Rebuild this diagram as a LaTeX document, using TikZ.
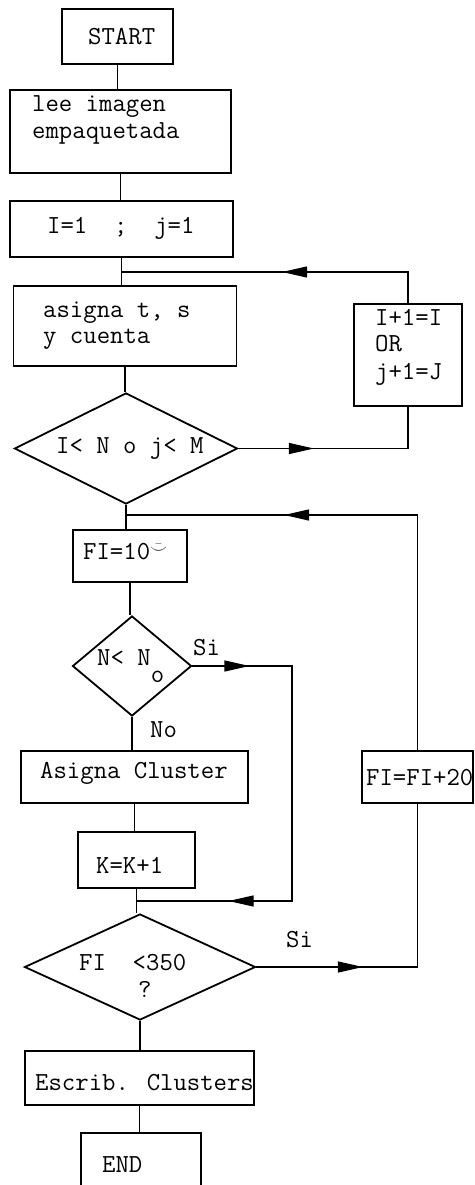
\documentclass[tikz,border=0pt]{standalone}
\usetikzlibrary{shapes.geometric,arrows.meta,decorations.markings}
\begin{document}
\begin{tikzpicture}[x=1pt,y=-1pt,
  box/.style={draw,line width=1.8pt,inner sep=0pt},
  dia/.style={draw,diamond,line width=1.8pt,inner sep=0pt},
  txt/.style={font=\fontsize{26}{28}\selectfont\ttfamily,inner sep=0pt,anchor=base west},
  conn/.style={draw,line width=1.2pt},
  tri/.tip={Triangle[length=25pt,width=11pt]},
  tipat/.style={postaction={decorate},decoration={markings,mark=at position #1 with {\arrow{tri}}}}]
\useasboundingbox (0,0) rectangle (474,1185);
\clip (0,0) rectangle (474,1185);

% main column
\node[box,minimum width=111pt,minimum height=55pt] (start) at (117.5,36.5) {};
\node[txt] (startT) at (88,45) {START};

\node[box,minimum width=221pt,minimum height=83pt] (lee) at (120.5,131.5) {};
\node[txt] (leeA) at (32,112) {lee imagen};
\node[txt] (leeB) at (32,139) {empaquetada};

\node[box,minimum width=223pt,minimum height=56pt] (ini) at (121.5,229) {};
\node[txt] (iniT) at (47,233) {I=1\ \ ;\ \ j=1};

\coordinate (m1) at (121.5,272);

\node[box,minimum width=223pt,minimum height=80pt] (asig) at (125,326) {};
\node[txt] (asigA) at (43,317) {asigna t, s};
\node[txt] (asigB) at (43,343) {y cuenta};

\node[dia,minimum width=223pt,minimum height=111pt] (d1) at (126,448.5) {};
\node[txt] (d1T) at (56,453) {I< N o j< M};

% increment box
\node[box,minimum width=108pt,minimum height=102pt] (inc) at (408,355) {};
\node[txt] (incA) at (375,325) {I+1=I};
\node[txt] (incB) at (375,351) {OR};
\node[txt] (incC) at (375,379) {j+1=J};

\coordinate (m2) at (126,515);

\node[box,minimum width=114pt,minimum height=52pt] (fi) at (130,556) {};
\node[txt] (fiT) at (83,559) {FI=10\raisebox{6pt}{\fontsize{16}{16}\selectfont$\bar{\smile}$}};

\node[dia,minimum width=119pt,minimum height=100pt] (d2) at (132,666) {};
\node[txt] (d2T) at (97,665) {N< N\raisebox{-17pt}{o}};
\node[txt] (si1) at (193,655) {Si};
\node[txt] (no) at (150,737) {No};

\node[box,minimum width=227pt,minimum height=52pt] (ac) at (134.5,777) {};
\node[txt] (acT) at (40,778) {Asigna Cluster};

\node[box,minimum width=117pt,minimum height=56pt] (kk) at (136.5,860) {};
\node[txt] (kkT) at (96,873) {K=K+1};

\coordinate (m3) at (136.5,901);
\coordinate (s2) at (292,901);

\node[dia,minimum width=231pt,minimum height=106pt] (d3) at (140,967) {};
\node[txt] (d3T) at (79,970) {FI\ \ <350};
\node[txt] (d3Q) at (138,997) {?};
\node[txt] (si3) at (286,947) {Si};

\node[box,minimum width=111pt,minimum height=52pt] (fi20) at (417.5,777) {};
\node[txt] (fi20T) at (366,785) {FI=FI+20};

\node[box,minimum width=229pt,minimum height=54pt] (esc) at (139.5,1078) {};
\node[txt] (escT) at (35,1090) {Escrib. Clusters};

\node[box,minimum width=120pt,minimum height=70pt] (fin) at (141,1168) {};
\node[txt] (finT) at (102,1172) {END};

% connectors
\draw[conn] (start.south) -- (start.south |- lee.north);
\draw[conn] (lee.south) -- (lee.south |- ini.north);
\draw[conn] (ini.south) -- (ini.south |- asig.north);
\draw[conn,tipat=157pt] (inc.north) |- (m1);
\draw[conn] (asig.south) -- (asig.south |- d1.north);
\draw[conn,tipat=75.5pt] (d1.east) -| (inc.south);
\draw[conn] (d1.south) -- (d1.south |- fi.north);
\draw[conn,tipat=368.5pt] (fi20.north) |- (m2);
\draw[conn] (fi.south) -- (fi.south |- d2.north);
\draw[conn,postaction={decorate},decoration={markings,
    mark=at position 57pt with {\arrow{tri}},
    mark=at position 398pt with {\arrow{tri}}}]
  (d2.east) -| (s2) -- (m3);
\draw[conn] (d2.south) -- (d2.south |- ac.north);
\draw[conn] (ac.south) -- (ac.south |- kk.north);
\draw[conn] (kk.south) -- (kk.south |- d3.north);
\draw[conn,tipat=106.5pt] (d3.east) -| (fi20.south);
\draw[conn] (d3.south) -- (d3.south |- esc.north);
\draw[conn] (esc.south) -- (esc.south |- fin.north);
\end{tikzpicture}
\end{document}
